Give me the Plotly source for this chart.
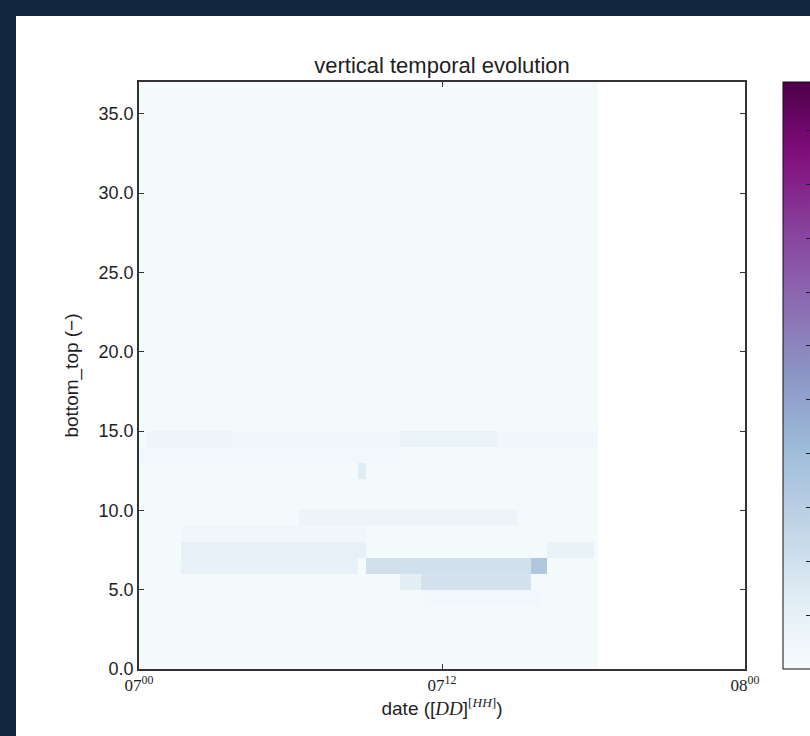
import plotly.graph_objects as go

# ---- data -------------------------------------------------------------
# model levels (bottom_top index, cell edges)
level_edges = list(range(0, 38))
# output times in hours after 07 00h, 10-minute steps up to ~18h10
time_edges = [i / 6 for i in range(0, 110)]

background_value = 0.02

# localized structures: (level, start hour, end hour, value)
patch_level = [14, 14, 14, 13, 12, 9, 8, 7, 7, 6, 6, 6, 5, 5, 4]
patch_start = [0.4, 3.6, 10.3, 0.0, 8.75, 6.3, 1.75, 1.75, 16.2, 1.75, 9.0, 15.5, 10.3, 11.2, 11.4]
patch_end = [18.2, 18.2, 14.2, 10.3, 9.05, 15.0, 9.0, 9.0, 18.0, 8.6, 15.5, 16.2, 11.2, 15.5, 15.9]
patch_value = [0.06, 0.045, 0.075, 0.035, 0.13, 0.065, 0.045, 0.10, 0.085, 0.09, 0.20, 0.34, 0.12, 0.19, 0.035]

x_tickvals = [0, 12, 24]
x_ticktext = ["07<sup>00</sup>", "07<sup>12</sup>", "08<sup>00</sup>"]
y_tickvals = [0, 5, 10, 15, 20, 25, 30, 35]

# ---- field assembly ----------------------------------------------------
n_lev = len(level_edges) - 1
n_t = len(time_edges) - 1
z = [[background_value] * n_t for _ in range(n_lev)]
for lev, t0, t1, val in zip(patch_level, patch_start, patch_end, patch_value):
    for j in range(n_t):
        tc = 0.5 * (time_edges[j] + time_edges[j + 1])
        if t0 <= tc <= t1:
            z[lev][j] = val

# ---- figure ------------------------------------------------------------
W, H = 810, 736
ML, MR, MT, MB = 139, 65, 82, 67
PW, PH = W - ML - MR, H - MT - MB
INK = "#1e1e1e"

fig = go.Figure()
fig.add_trace(go.Heatmap(
    x=time_edges, y=level_edges, z=z,
    colorscale="BuPu", zmin=0, zmax=1.09,
    colorbar=dict(
        x=(783 - ML) / PW, xanchor="left", xref="paper", xpad=0,
        y=0.5, yanchor="middle", len=1.0, lenmode="fraction", ypad=0,
        thickness=28, thicknessmode="pixels",
        outlinecolor="#111111", outlinewidth=1,
        ticks="inside", ticklen=5, tickcolor="#222222",
        dtick=0.1, tick0=0, showticklabels=False,
    ),
    showscale=True, hoverinfo="skip",
))

axis_common = dict(
    showline=True, linecolor="#333333", linewidth=1.5, mirror="ticks",
    ticks="inside", ticklen=5, tickwidth=1, tickcolor="#333333",
    showgrid=False, zeroline=False,
)

fig.update_xaxes(
    range=[0, 24], tickmode="array", tickvals=x_tickvals, ticktext=x_ticktext,
    tickfont=dict(family="Liberation Serif", size=17, color=INK),
    title=dict(
        text="date ([<span style='font-family:Liberation Serif'><i>DD</i></span>]"
             "<sup><span style='font-family:Liberation Serif'>[<i>HH</i>]</span></sup>)",
        font=dict(family="Liberation Sans", size=19, color=INK),
        standoff=1,
    ),
    **axis_common,
)
fig.update_yaxes(
    range=[0, 37], tickmode="array", tickvals=y_tickvals, tickformat=".1f",
    tickfont=dict(family="Liberation Sans", size=18, color=INK),
    title=dict(text="bottom_top (\u2212)",
               font=dict(family="Liberation Sans", size=19, color=INK),
               standoff=15),
    **axis_common,
)

# dark frame along the top and left edges of the page
frame = "#13273f"
fx0 = -ML / PW
fy1 = (H - MB) / PH
fig.add_shape(type="rect", xref="paper", yref="paper", layer="above",
              x0=fx0, x1=fx0 + 16 / PW, y0=fy1 - H / PH, y1=fy1,
              fillcolor=frame, line=dict(width=0))
fig.add_shape(type="rect", xref="paper", yref="paper", layer="above",
              x0=fx0, x1=fx0 + W / PW, y0=fy1 - 16 / PH, y1=fy1,
              fillcolor=frame, line=dict(width=0))

fig.update_layout(
    width=W, height=H,
    margin=dict(l=ML, r=MR, t=MT, b=MB, autoexpand=False),
    paper_bgcolor="white", plot_bgcolor="white",
    title=dict(text="vertical temporal evolution", x=(442 - ML) / PW, xref="paper",
               xanchor="center", y=1 - 73 / H, yanchor="bottom",
               font=dict(family="Liberation Sans", size=22, color=INK)),
    showlegend=False,
)

fig.write_html("out.html")
